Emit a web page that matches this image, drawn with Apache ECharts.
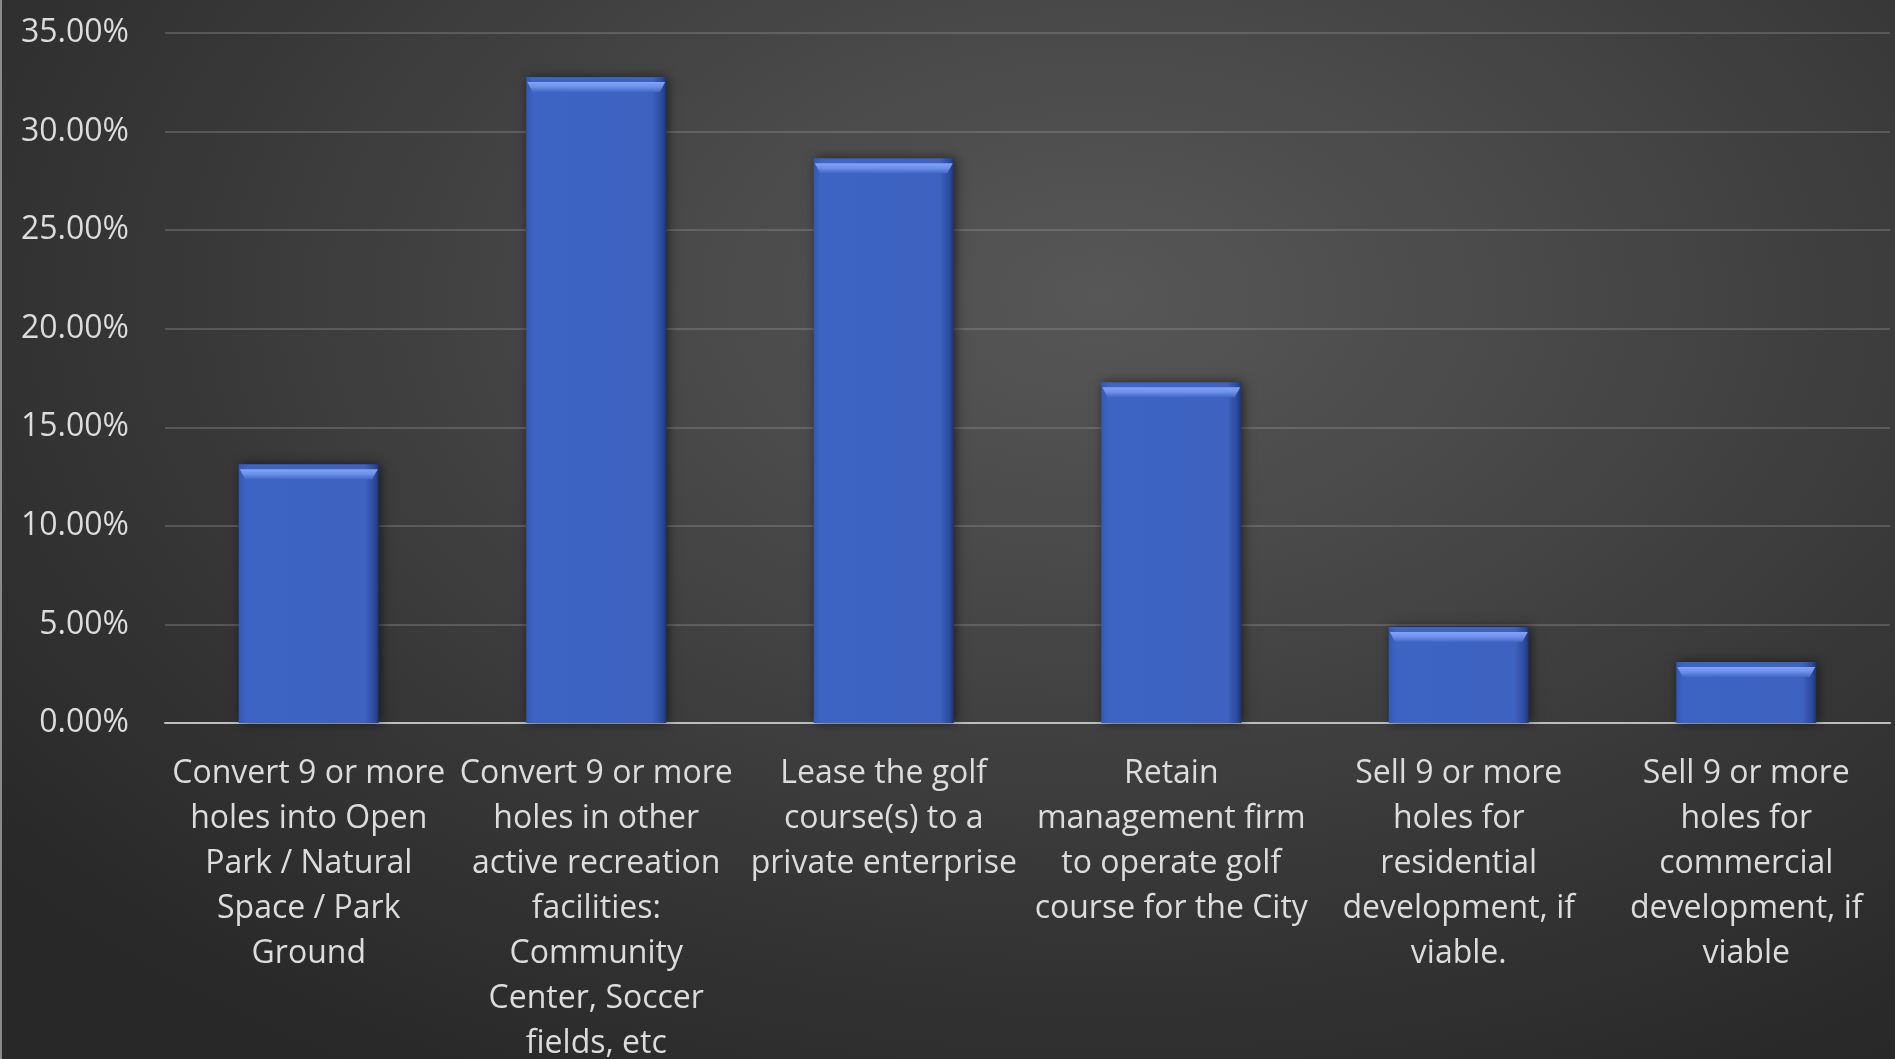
<!DOCTYPE html>
<html>
<head>
<meta charset="utf-8">
<script src="https://cdn.jsdelivr.net/npm/echarts@6/dist/echarts.min.js"></script>
<style>
  html, body { margin: 0; padding: 0; }
  #chart {
    width: 1895px; height: 1059px;
    background: radial-gradient(ellipse 75% 85% at 58% 28%, #575757 0%, #474747 35%, #353535 70%, #282828 100%);
    border-left: 2px solid #8a8a8a;
    box-sizing: border-box;
  }
</style>
</head>
<body>
<div id="chart"></div>
<script>
// Survey options for the municipal golf course(s)
const categories = [
  'Convert 9 or more\nholes into Open\nPark / Natural\nSpace / Park\nGround',
  'Convert 9 or more\nholes in other\nactive recreation\nfacilities:\nCommunity\nCenter, Soccer\nfields, etc',
  'Lease the golf\ncourse(s) to a\nprivate enterprise',
  'Retain\nmanagement firm\nto operate golf\ncourse for the City',
  'Sell 9 or more\nholes for\nresidential\ndevelopment, if\nviable.',
  'Sell 9 or more\nholes for\ncommercial\ndevelopment, if\nviable'
];
// Share of respondents, in percent
const shares = [13.13, 32.77, 28.65, 17.29, 4.87, 3.10];
// Value axis range
const axisMax = 35;
const axisStep = 5;

const chart = echarts.init(document.getElementById('chart'), null, { renderer: 'canvas' });

const labelFont = '"Open Sans", "Noto Sans", sans-serif';

chart.setOption({
  backgroundColor: 'transparent',
  animation: false,
  grid: { left: 163, right: 5, top: 33, bottom: 336, outerBoundsMode: 'none', containLabel: false },
  xAxis: {
    type: 'category',
    data: categories,
    axisLine: { lineStyle: { color: '#bdbdbd', width: 2 } },
    axisTick: { show: false },
    axisLabel: {
      interval: 0,
      margin: 28,
      color: '#dcdcdc',
      fontFamily: labelFont,
      fontSize: 32,
      lineHeight: 45,
      align: 'center'
    }
  },
  yAxis: {
    type: 'value',
    min: 0,
    max: axisMax,
    interval: axisStep,
    axisLine: { show: false },
    axisTick: { show: false },
    splitLine: { lineStyle: { color: 'rgba(150,150,150,0.35)', width: 2 } },
    axisLabel: {
      margin: 36,
      color: '#dcdcdc',
      fontFamily: labelFont,
      fontSize: 32,
      formatter: v => v.toFixed(2) + '%'
    }
  },
  series: [
    {
      type: 'bar',
      data: shares,
      barWidth: 140,
      itemStyle: {
        color: {
          type: 'linear', x: 0, y: 0, x2: 1, y2: 0,
          colorStops: [
            { offset: 0, color: '#3358b4' },
            { offset: 0.05, color: '#3d64c4' },
            { offset: 0.9, color: '#3d62c0' },
            { offset: 0.97, color: '#2c4a9c' },
            { offset: 1, color: '#1d3372' }
          ]
        },
        shadowColor: 'rgba(0,0,0,0.55)',
        shadowBlur: 10,
        shadowOffsetX: 2
      },
      z: 2
    },
    {
      // light bevel on the top edge of each bar
      type: 'pictorialBar',
      data: shares,
      symbol: 'path://M0,0 L100,0 L96,10 L4,10 Z',
      symbolSize: [138, 10],
      symbolPosition: 'end',
      symbolOffset: [0, '50%'],
      itemStyle: {
        color: {
          type: 'linear', x: 0, y: 0, x2: 0, y2: 1,
          colorStops: [
            { offset: 0, color: '#84a4f4' },
            { offset: 0.5, color: '#6d8fe9' },
            { offset: 1, color: '#4168c8' }
          ]
        }
      },
      silent: true,
      z: 3
    }
  ]
});
</script>
</body>
</html>
